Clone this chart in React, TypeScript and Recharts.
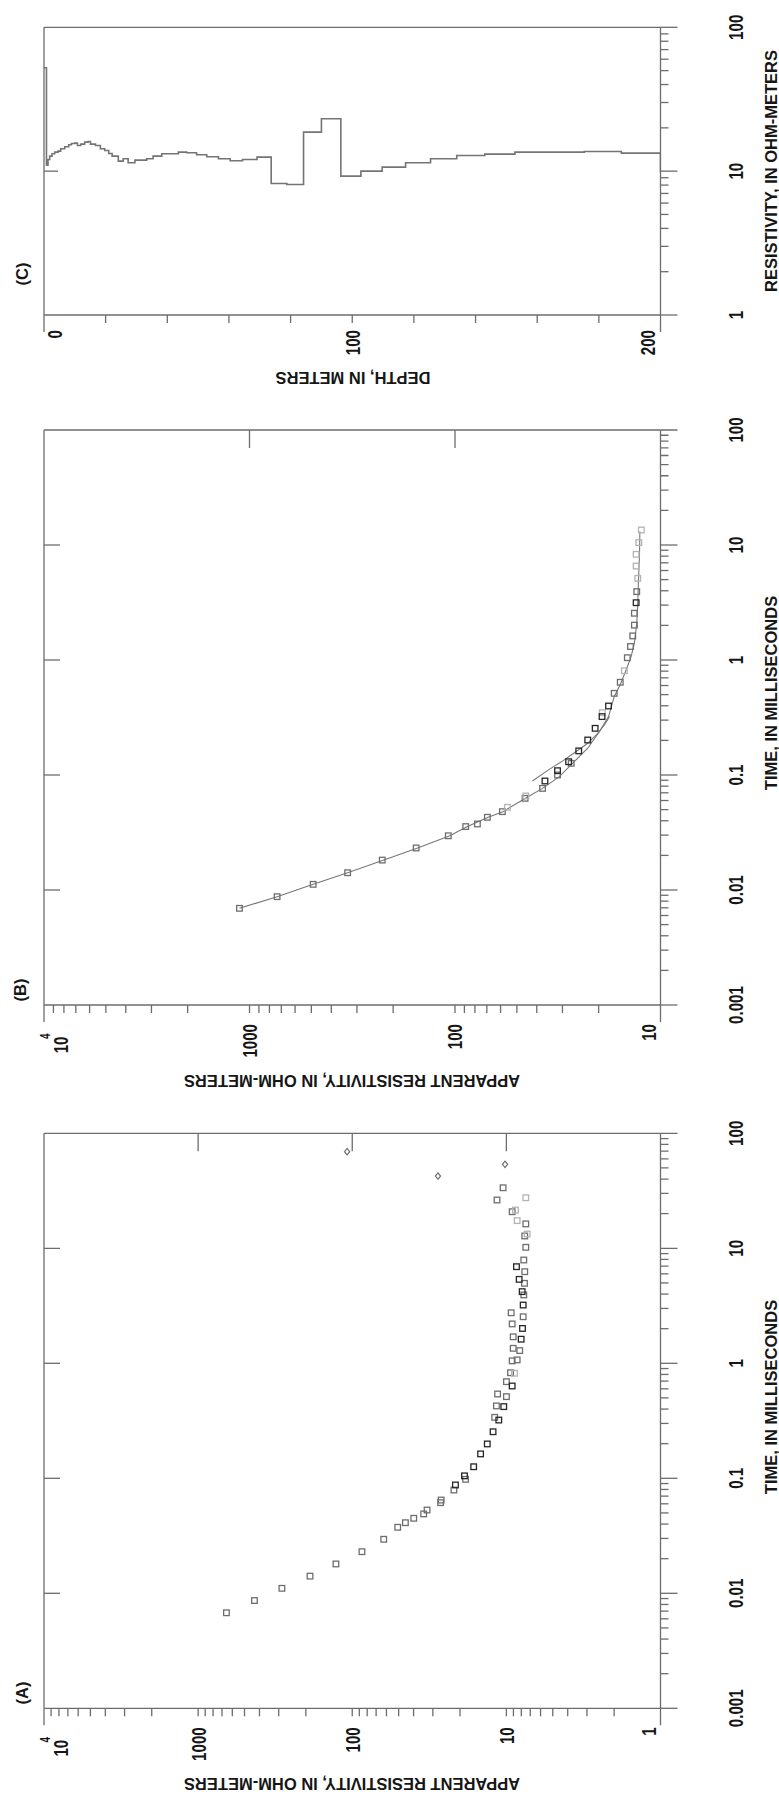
import React from 'react';
import { ComposedChart, Scatter, Line, XAxis, YAxis } from 'recharts';

type Pt = [number, number]; // [time ms, apparent resistivity ohm-m]

// ---------- Panel A: measured apparent resistivity vs time ----------
const aGraySquares: Pt[] = [
  [33.6, 10.5], [26.3, 11.5], [20.8, 9.17], [16.3, 7.48], [12.8, 7.6], [10.2, 7.48], [7.91, 7.71],
  [6.26, 7.6], [4.96, 7.63], [3.93, 7.71], [2.54, 7.78], [2.75, 9.31], [2.2, 9.17], [1.7, 9.03],
  [1.29, 8.19], [1.35, 9.03], [1.07, 8.51], [1.05, 9.17], [0.828, 9.4], [0.692, 9.99], [0.541, 11.4],
  [0.513, 9.99], [0.426, 11.6], [0.339, 11.9], [0.098, 18.4], [0.0791, 21.9], [0.0647, 26.5],
  [0.0614, 26.7], [0.053, 32.7], [0.049, 34.4], [0.0449, 39.9], [0.0411, 45.2], [0.0375, 50.7],
  [0.0295, 62.5], [0.023, 86.5], [0.018, 127.6], [0.0141, 188], [0.01105, 286], [0.00865, 431],
  [0.00677, 655],
];
const aDarkSquares: Pt[] = [
  [6.92, 8.6], [5.37, 8.26], [4.2, 7.9], [3.21, 7.78], [2.01, 7.86], [1.62, 8.02], [0.635, 9.17],
  [0.42, 10.4], [0.321, 11.2], [0.254, 12.2], [0.199, 13.3], [0.163, 14.7], [0.126, 16.3],
  [0.105, 18.7], [0.0875, 21.4],
];
const aLightSquares: Pt[] = [
  [27.5, 7.48], [21.5, 8.73], [17.4, 8.51], [13.3, 7.33], [0.819, 8.86],
];
const aDiamonds: Pt[] = [[69.2, 108], [53.7, 10.2], [42.5, 27.8]];

// ---------- Panel B: data used for the inversion and model responses ----------
const bGraySquares: Pt[] = [
  [0.00693, 1119], [0.00875, 734], [0.0112, 490], [0.01413, 333], [0.0182, 226], [0.0232, 154.5],
  [0.0296, 107.8], [0.0356, 88.7], [0.0375, 77.8], [0.0429, 69.6], [0.048, 58.8], [0.0627, 45.6],
  [0.0765, 37.5], [0.1, 31.7], [0.1264, 27.2], [0.513, 16.8], [0.64, 15.7], [1.047, 14.5],
  [1.31, 14.0], [1.62, 13.65], [2.01, 13.4], [2.55, 13.4], [3.93, 13.05],
];
const bDarkSquares: Pt[] = [
  [0.0887, 36.5], [0.109, 31.7], [0.1305, 28.0], [0.162, 25.0], [0.2015, 22.6], [0.2547, 20.8],
  [0.322, 19.25], [0.398, 17.9], [3.15, 13.14],
];
const bLightSquares: Pt[] = [
  [0.0524, 55.6], [0.0657, 45.2], [0.348, 19.2], [0.807, 15.0], [5.13, 12.9], [6.56, 13.14],
  [8.3, 13.14], [10.5, 12.75], [13.5, 12.4],
];
const bModelCurve: Pt[] = [
  [0.00693, 1119], [0.00875, 734], [0.0112, 490], [0.01413, 333], [0.0182, 222], [0.0232, 152],
  [0.0296, 106], [0.0356, 87], [0.0429, 69], [0.048, 58.5], [0.0627, 45.4], [0.0765, 37.5],
  [0.0967, 31.1], [0.1264, 26.8], [0.171, 22.6], [0.238, 19.85], [0.322, 17.9], [0.48, 16.8],
  [0.627, 15.6], [0.819, 14.7], [1.07, 13.9], [1.4, 13.4], [2.08, 13.05], [3.11, 12.9],
  [4.96, 12.8], [7.91, 12.66], [13.1, 12.6],
];
const bSecondCurve: Pt[] = [
  [0.0887, 42.0], [0.112, 34.8], [0.132, 30.0], [0.1595, 25.8], [0.1887, 22.6], [0.2305, 20.2],
  [0.272, 18.75], [0.322, 17.7],
];

// ---------- Panel C: layered resistivity model ----------
const cLayerTop: number[] = [
  0, 0.8, 1.3, 1.84, 2.6, 3.47, 4.55, 5.42, 6.72, 8.02, 8.89, 9.97, 10.84, 11.92, 13.2, 14.3, 15.07,
  16.7, 18.3, 19.7, 21.0, 22.1, 24.1, 25.7, 27.3, 29.5, 33.3, 35.4, 38.2, 43.6, 46.3, 49.5, 52.8,
  56.6, 60.4, 64.4, 69.1, 73.7, 78.8, 84.2, 90.0, 96.3, 102.8, 109.7, 117.3, 125.4, 133.9, 143.0,
  152.8, 175.3, 187.3,
];
const cLayerRes: number[] = [
  52.3, 11.0, 12.06, 12.72, 13.2, 13.56, 13.78, 14.31, 14.77, 15.25, 15.58, 15.67, 15.09, 15.42,
  15.92, 16.09, 15.42, 15.09, 14.31, 13.93, 13.28, 12.72, 11.74, 12.19, 11.43, 11.93, 12.19, 12.72,
  13.2, 13.56, 13.42, 13.0, 12.59, 12.19, 11.81, 12.06, 12.52, 8.21, 8.08, 18.68, 23.13, 9.23, 10.0,
  10.66, 11.43, 12.19, 12.86, 13.14, 13.56, 13.7, 13.35,
];
const cModelBase = 200;
const cBaseRes = 9.8;

// ---------- tick values and labels ----------
const timeDecades = [0.001, 0.01, 0.1, 1, 10, 100];
const timeLabels = ['0.001', '0.01', '0.1', '1', '10', '100'];
const timeInnerTicks = [0.01, 0.1, 1, 10];
const resDecadesA = [1, 10, 100, 1000, 10000];
const resLabelsA = ['1', '10', '100', '1000', '10^4'];
const resDecadesB = [10, 100, 1000, 10000];
const resLabelsB = ['10', '100', '1000', '10^4'];
const resDecadesC = [1, 10, 100];
const resLabelsC = ['1', '10', '100'];
const depthTicks = [0, 20, 40, 60, 80, 100, 120, 140, 160, 180, 200];
const depthLabeled = [0, 100, 200];

// ---------- styling ----------
const FONT = "'Liberation Sans', Arial, Helvetica, sans-serif";
const FRAME = '#6c6c6c';
const INK = '#161616';
const GRAY = '#6e6e6e';
const DARK = '#262626';
const LIGHT = '#b3b3b3';
const TICK_FS = 21;
const CONDENSE = 0.72;
const TITLE_FS = 16.5;
const frameLine = { stroke: FRAME, strokeWidth: 1.3 };

const near = (a: number, b: number) => Math.abs(a - b) <= Math.abs(b) * 1e-6 + 1e-12;

const withMinors = (decades: number[]) => {
  const out: number[] = [];
  decades.forEach((d, i) => {
    out.push(d);
    if (i < decades.length - 1) {
      for (let m = 2; m <= 9; m++) out.push(Number((d * m).toPrecision(6)));
    }
  });
  return out;
};

const toTR = (pts: Pt[]) => pts.map(([t, r]) => ({ t, r }));

const Digits = ({ x, y, anchor, text, size = TICK_FS }: { x: number; y: number; anchor: string; text: string; size?: number }) => (
  <text
    transform={`translate(${x},${y}) scale(${CONDENSE},1)`}
    textAnchor={anchor as any}
    dominantBaseline="central"
    fontFamily={FONT}
    fontWeight="bold"
    fontSize={size}
    fill={INK}
  >
    {text}
  </text>
);

// left (resistivity) axis: outward ticks, longer at the two ends
const makeResTick = (decades: number[], labels: string[], lo: number, hi: number) => (p: any) => {
  const v = p.payload.value;
  const { x, y } = p;
  const atTop = near(v, hi);
  const atBottom = near(v, lo);
  const len = atTop || atBottom ? 17 : 8;
  const idx = decades.findIndex((d) => near(d, v));
  let label: React.ReactNode = null;
  if (idx >= 0) {
    const txt = labels[idx];
    if (txt === '10^4') {
      label = (
        <g>
          <Digits x={x - 31.5} y={y + 17} anchor="end" text="10" />
          <Digits x={x - 28.5} y={y + 1.5} anchor="end" text="4" size={14} />
        </g>
      );
    } else {
      label = <Digits x={x - 19} y={y + (atTop ? 12 : atBottom ? -12 : 0)} anchor="end" text={txt} />;
    }
  }
  return (
    <g>
      <line x1={x} x2={x - len} y1={y} y2={y} stroke={FRAME} strokeWidth={1.3} />
      {label}
    </g>
  );
};

// bottom axis: outward ticks, decades long and labelled
const makeBottomTick = (decades: number[], labels: string[]) => (p: any) => {
  const v = p.payload.value;
  const { x, y } = p;
  const idx = decades.findIndex((d) => near(d, v));
  const len = idx >= 0 ? 17 : 8;
  return (
    <g>
      <line x1={x} x2={x} y1={y} y2={y + len} stroke={FRAME} strokeWidth={1.3} />
      {idx >= 0 && <Digits x={x} y={y + 75} anchor="middle" text={labels[idx]} />}
    </g>
  );
};

const depthTick = (p: any) => {
  const v = p.payload.value;
  const { x, y } = p;
  const isEnd = v === 0 || v === 200;
  const labelled = depthLabeled.includes(v);
  return (
    <g>
      <line x1={x} x2={x - (isEnd ? 17 : 8)} y1={y} y2={y} stroke={FRAME} strokeWidth={1.3} />
      {labelled && <Digits x={x - 15} y={y + (v === 0 ? 11 : v === 200 ? -13 : 0)} anchor="end" text={String(v)} />}
    </g>
  );
};

const inwardDown = (len: number) => (p: any) => (
  <line x1={p.x} x2={p.x} y1={p.y} y2={p.y + len} stroke={FRAME} strokeWidth={1.3} />
);
const inwardLeft = (len: number) => (p: any) => (
  <line x1={p.x} x2={p.x - len} y1={p.y} y2={p.y} stroke={FRAME} strokeWidth={1.3} />
);

const square = (color: string) => (props: any) => {
  const { cx, cy } = props;
  if (cx == null || cy == null) return <g />;
  return <rect x={cx - 2.8} y={cy - 2.8} width={5.6} height={5.6} fill="none" stroke={color} strokeWidth={1.3} />;
};
const diamond = (props: any) => {
  const { cx, cy } = props;
  if (cx == null || cy == null) return <g />;
  return (
    <path
      d={`M${cx - 3.2},${cy} L${cx},${cy - 2.6} L${cx + 3.2},${cy} L${cx},${cy + 2.6} Z`}
      fill="none"
      stroke={GRAY}
      strokeWidth={1.2}
    />
  );
};

const timeTicks = withMinors(timeDecades);
const H = 779;

// The two time axes (bottom with labels, top with inner decade ticks) share one log scale.
const PanelA = () => (
  <ComposedChart width={720} height={H} margin={{ top: 43, right: 40.3, bottom: 38.5, left: 43.7 }}>
    <XAxis xAxisId="t" type="number" dataKey="t" scale="log" domain={[0.001, 100]} allowDataOverflow
      ticks={timeTicks} interval={0} tickSize={0} tickMargin={0} height={80}
      axisLine={frameLine} tickLine={false} tick={makeBottomTick(timeDecades, timeLabels)} />
    <XAxis xAxisId="tTop" orientation="top" type="number" dataKey="t" scale="log" domain={[0.001, 100]} allowDataOverflow
      ticks={timeInnerTicks} interval={0} tickSize={0} tickMargin={0} height={1}
      axisLine={frameLine} tickLine={false} tick={inwardDown(16)} />
    <YAxis yAxisId="r" type="number" dataKey="r" scale="log" domain={[1, 10000]} allowDataOverflow
      ticks={withMinors(resDecadesA)} interval={0} tickSize={0} tickMargin={0} width={60}
      axisLine={frameLine} tickLine={false} tick={makeResTick(resDecadesA, resLabelsA, 1, 10000)} />
    <YAxis yAxisId="rRight" orientation="right" type="number" dataKey="r" scale="log" domain={[1, 10000]} allowDataOverflow
      ticks={[10, 100, 1000]} interval={0} tickSize={0} tickMargin={0} width={1}
      axisLine={frameLine} tickLine={false} tick={inwardLeft(18)} />
    <Scatter data={toTR(aGraySquares)} xAxisId="t" yAxisId="r" shape={square(GRAY)} isAnimationActive={false} />
    <Scatter data={toTR(aLightSquares)} xAxisId="t" yAxisId="r" shape={square(LIGHT)} isAnimationActive={false} />
    <Scatter data={toTR(aDarkSquares)} xAxisId="t" yAxisId="r" shape={square(DARK)} isAnimationActive={false} />
    <Scatter data={toTR(aDiamonds)} xAxisId="tTop" yAxisId="rRight" shape={diamond} isAnimationActive={false} />
  </ComposedChart>
);

const PanelB = () => (
  <ComposedChart width={700} height={H} margin={{ top: 43, right: 37, bottom: 38.5, left: 27 }}>
    <XAxis xAxisId="t" type="number" dataKey="t" scale="log" domain={[0.001, 100]} allowDataOverflow
      ticks={timeTicks} interval={0} tickSize={0} tickMargin={0} height={80}
      axisLine={frameLine} tickLine={false} tick={makeBottomTick(timeDecades, timeLabels)} />
    <XAxis xAxisId="tTop" orientation="top" type="number" dataKey="t" scale="log" domain={[0.001, 100]} allowDataOverflow
      ticks={timeInnerTicks} interval={0} tickSize={0} tickMargin={0} height={1}
      axisLine={frameLine} tickLine={false} tick={inwardDown(16)} />
    <YAxis yAxisId="r" type="number" dataKey="r" scale="log" domain={[10, 10000]} allowDataOverflow
      ticks={withMinors(resDecadesB)} interval={0} tickSize={0} tickMargin={0} width={60}
      axisLine={frameLine} tickLine={false} tick={makeResTick(resDecadesB, resLabelsB, 10, 10000)} />
    <YAxis yAxisId="rRight" orientation="right" type="number" dataKey="r" scale="log" domain={[10, 10000]} allowDataOverflow
      ticks={[100, 1000]} interval={0} tickSize={0} tickMargin={0} width={1}
      axisLine={frameLine} tickLine={false} tick={inwardLeft(18)} />
    <Line data={toTR(bModelCurve)} xAxisId="t" yAxisId="r" dataKey="r" type="linear" stroke="#777" strokeWidth={1.1}
      dot={false} activeDot={false} isAnimationActive={false} />
    <Line data={toTR(bSecondCurve)} xAxisId="t" yAxisId="r" dataKey="r" type="linear" stroke="#777" strokeWidth={1.1}
      dot={false} activeDot={false} isAnimationActive={false} />
    <Scatter data={toTR(bGraySquares)} xAxisId="t" yAxisId="r" shape={square(GRAY)} isAnimationActive={false} />
    <Scatter data={toTR(bLightSquares)} xAxisId="tTop" yAxisId="rRight" shape={square(LIGHT)} isAnimationActive={false} />
    <Scatter data={toTR(bDarkSquares)} xAxisId="t" yAxisId="r" shape={square(DARK)} isAnimationActive={false} />
  </ComposedChart>
);

// step profile: each layer holds its resistivity down to the next layer top
const cProfile = [
  ...cLayerTop.map((d, i) => ({ d, r: cLayerRes[i] })),
  { d: cModelBase, r: cLayerRes[cLayerRes.length - 1] },
  { d: cModelBase, r: cBaseRes },
];

const PanelC = () => (
  <ComposedChart layout="vertical" width={392} height={H} margin={{ top: 43, right: 26.3, bottom: 38.5, left: 17 }}>
    <XAxis xAxisId="r" type="number" dataKey="r" scale="log" domain={[1, 100]} allowDataOverflow
      ticks={withMinors(resDecadesC)} interval={0} tickSize={0} tickMargin={0} height={80}
      axisLine={frameLine} tickLine={false} tick={makeBottomTick(resDecadesC, resLabelsC)} />
    <XAxis xAxisId="rTop" orientation="top" type="number" scale="log" domain={[1, 100]} allowDataOverflow
      ticks={[10]} interval={0} tickSize={0} tickMargin={0} height={1}
      axisLine={frameLine} tickLine={false} tick={inwardDown(14)} />
    <YAxis yAxisId="d" type="number" dataKey="d" domain={[0, 200]} allowDataOverflow
      ticks={depthTicks} interval={0} tickSize={0} tickMargin={0} width={60}
      axisLine={frameLine} tickLine={false} tick={depthTick} />
    <YAxis yAxisId="dRight" orientation="right" type="number" domain={[0, 200]} allowDataOverflow
      ticks={[100]} interval={0} tickSize={0} tickMargin={0} width={1}
      axisLine={frameLine} tickLine={false} tick={inwardLeft(17)} />
    <Line data={cProfile} xAxisId="r" yAxisId="d" dataKey="r" type="stepBefore" stroke="#747474" strokeWidth={1.6}
      dot={false} activeDot={false} isAnimationActive={false} />
  </ComposedChart>
);

const Title = ({ x, y, text, rotate = 0, size = TITLE_FS }: { x: number; y: number; text: string; rotate?: number; size?: number }) => (
  <text
    x={0}
    y={0}
    transform={`translate(${x},${y}) rotate(${rotate})`}
    textAnchor="middle"
    dominantBaseline="central"
    fontFamily={FONT}
    fontWeight="bold"
    fontSize={size}
    fill={INK}
  >
    {text}
  </text>
);

export default function App() {
  return (
    <div style={{ position: 'absolute', left: 0, top: 0, width: 779, height: 1812, overflow: 'hidden', background: '#fff' }}>
      <div
        style={{
          position: 'absolute',
          left: 0,
          top: 0,
          width: 1812,
          height: 779,
          transformOrigin: '0 0',
          transform: 'translate(0px, 1812px) rotate(-90deg)',
        }}
      >
        <div style={{ position: 'absolute', left: 0, top: 0 }}><PanelA /></div>
        <div style={{ position: 'absolute', left: 720, top: 0 }}><PanelB /></div>
        <div style={{ position: 'absolute', left: 1420, top: 0 }}><PanelC /></div>
        <svg width={1812} height={779} style={{ position: 'absolute', left: 0, top: 0, pointerEvents: 'none' }}>
          <Title x={119} y={22} text="(A)" size={16.5} />
          <Title x={822} y={20} text="(B)" size={16.5} />
          <Title x={1538} y={22} text="(C)" size={16.5} />
          <Title x={415} y={771} text="TIME, IN MILLISECONDS" />
          <Title x={1119} y={771} text="TIME, IN MILLISECONDS" />
          <Title x={1641} y={771} text="RESISTIVITY, IN OHM-METERS" />
          <Title x={28} y={352} text="APPARENT RESISTIVITY, IN OHM-METERS" rotate={-90} />
          <Title x={731} y={352} text="APPARENT RESISTIVITY, IN OHM-METERS" rotate={-90} />
          <Title x={1434} y={353} text="DEPTH, IN METERS" rotate={-90} />
        </svg>
      </div>
    </div>
  );
}
